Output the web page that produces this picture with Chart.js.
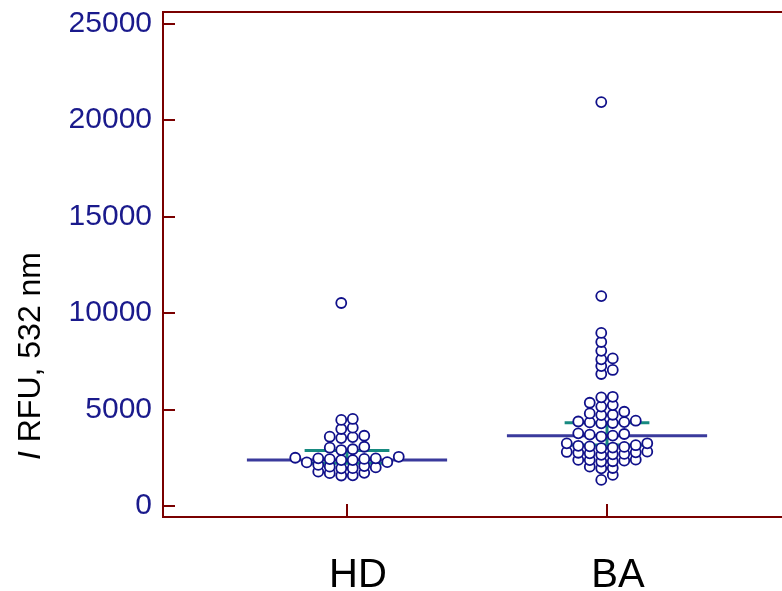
<!DOCTYPE html>
<html>
<head>
<meta charset="utf-8">
<script src="https://cdn.jsdelivr.net/npm/chart.js@4"></script>
<style>
  html, body { margin: 0; padding: 0; background: #fff; }
  #wrap { width: 782px; height: 591px; }
</style>
</head>
<body>
<div id="wrap"><canvas id="chart-dots" width="782" height="591"></canvas></div>
<script>
// groups on the x axis
const groups = ["HD", "BA"];

// individual values
const hdValues = [1580, 1590, 1700, 1720, 1780,
  1950, 1960, 2000, 2040, 2070, 2130,
  2260, 2270, 2380, 2380, 2430, 2440, 2470, 2470, 2500, 2550,
  2900, 2940, 3020, 3070,
  3520, 3570, 3590, 3640,
  3990, 4060, 4460, 4510,
  10520];

const baValues = [1350, 1610,
  1950, 1970, 2040,
  2300, 2320, 2350, 2380, 2390, 2400,
  2650, 2680, 2700, 2730, 2760, 2780, 2800, 2815,
  3000, 3030, 3060, 3090, 3120, 3150,
  3248, 3250,
  3600, 3650, 3700, 3730, 3765,
  4285, 4300, 4330, 4350, 4380, 4420,
  4710, 4730, 4800, 4885,
  5150, 5230, 5350, 5630, 5660,
  6840, 7050, 7250, 7600, 7650, 8040, 8500, 8970,
  10880, 20930];

// summary marks per group
const medians = [2380, 3640];
const means = [2870, 4320];
const lowerMarks = [2210, 3160];

const yTicks = [0, 5000, 10000, 15000, 20000, 25000];

const axisColor = "#7a0000";
const dotColor = "#10108a";
const medianColor = "#3a3a9c";
const meanColor = "#178a80";

const allValues = [hdValues, baValues];

// === point datasets ===
const pointSets = allValues.map((vals, i) => ({
  label: groups[i],
  data: vals.map(v => ({ x: i + 1, y: v })),
  pointRadius: 5,
  pointHoverRadius: 5,
  borderWidth: 1.8,
  borderColor: dotColor,
  backgroundColor: "#ffffff",
  order: 1
}));

// === summary lines ===
const lineSet = (pts, color) => ({
  type: "line",
  data: pts,
  showLine: true,
  borderColor: color,
  borderWidth: 3,
  pointRadius: 0,
  fill: false,
  order: 2
});

const medianHalf = 0.385;
const meanHalf = 0.163;
const lineSets = [];
groups.forEach((g, i) => {
  const c = i + 1;
  lineSets.push(lineSet([{ x: c - medianHalf, y: medians[i] }, { x: c + medianHalf, y: medians[i] }], medianColor));
  lineSets.push(lineSet([{ x: c - meanHalf, y: lowerMarks[i] }, { x: c + meanHalf, y: lowerMarks[i] }], meanColor));
  lineSets.push(lineSet([{ x: c, y: means[i] }, { x: c, y: lowerMarks[i] }], meanColor));
  lineSets.push(lineSet([{ x: c - meanHalf, y: means[i] }, { x: c + meanHalf, y: means[i] }], meanColor));
});

// frame, inner ticks and y title
const framePlugin = {
  id: "frame",
  afterDraw(chart) {
    const { ctx, chartArea: a, scales } = chart;
    ctx.save();
    ctx.strokeStyle = axisColor;
    ctx.lineWidth = 2;
    ctx.beginPath();
    ctx.moveTo(a.right, a.top);
    ctx.lineTo(a.left, a.top);
    ctx.lineTo(a.left, a.bottom);
    ctx.lineTo(a.right, a.bottom);
    yTicks.forEach(v => {
      const y = Math.round(scales.y.getPixelForValue(v));
      ctx.moveTo(a.left, y);
      ctx.lineTo(a.left + 12, y);
    });
    groups.forEach((g, i) => {
      const x = Math.round(scales.x.getPixelForValue(i + 1));
      ctx.moveTo(x, a.bottom);
      ctx.lineTo(x, a.bottom - 13);
    });
    ctx.stroke();

    // y title: italic I + regular rest
    ctx.translate(40, 356);
    ctx.rotate(-Math.PI / 2);
    ctx.fillStyle = "#000";
    ctx.textBaseline = "alphabetic";
    const fItal = "italic 32px 'Liberation Sans', Arial, sans-serif";
    const fReg = "32px 'Liberation Sans', Arial, sans-serif";
    ctx.font = fItal;
    const w1 = ctx.measureText("I").width;
    ctx.font = fReg;
    const rest = " RFU, 532 nm";
    const w2 = ctx.measureText(rest).width;
    let x0 = -(w1 + w2) / 2;
    ctx.font = fItal;
    ctx.fillText("I", x0, 0);
    ctx.font = fReg;
    ctx.fillText(rest, x0 + w1, 0);
    ctx.restore();
  }
};

const ctx = document.getElementById("chart-dots");
const chart = new Chart(ctx, {
  type: "scatter",
  data: { datasets: [...lineSets, ...pointSets] },
  options: {
    responsive: false,
    animation: false,
    events: [],
    layout: { autoPadding: false, padding: { top: 12, right: 0, left: 0, bottom: 0 } },
    plugins: { legend: { display: false }, tooltip: { enabled: false } },
    scales: {
      x: {
        type: "linear",
        min: 0.2923,
        max: 2.673,
        grid: { display: false, drawTicks: false },
        border: { display: false },
        afterBuildTicks: s => { s.ticks = groups.map((g, i) => ({ value: i + 1 })); },
        afterFit: s => { s.height = 74; s.paddingLeft = 0; s.paddingRight = 0; },
        ticks: {
          padding: 35,
          labelOffset: 11,
          color: "#000",
          font: { family: "'Liberation Sans', Arial, sans-serif", size: 40 },
          callback: v => groups[v - 1] || ""
        }
      },
      y: {
        min: -570,
        max: 25600,
        grid: { display: false, drawTicks: false },
        border: { display: false },
        afterBuildTicks: s => { s.ticks = yTicks.map(v => ({ value: v })); },
        afterFit: s => { s.width = 163; s.paddingTop = 0; s.paddingBottom = 0; },
        ticks: {
          padding: 11,
          color: "#1a1a8c",
          font: { family: "'Liberation Sans', Arial, sans-serif", size: 30 },
          callback: v => String(v)
        }
      }
    }
  },
  plugins: [framePlugin]
});

// dot-plot layout: spread close values sideways in columns
function layoutSwarm(chart) {
  const xs = chart.scales.x, ys = chart.scales.y;
  const pxPerUnit = xs.getPixelForValue(2) - xs.getPixelForValue(1);
  const step = 11.5, minGap = 6.5;
  pointSets.forEach((set, gi) => {
    const cols = {};
    const sorted = set.data.slice().sort((a, b) => a.y - b.y);
    sorted.forEach(p => {
      const py = ys.getPixelForValue(p.y);
      for (let k = 0; k < 40; k++) {
        const n = Math.floor(k / 2);
        const off = (k % 2 === 0 ? -1 : 1) * (n + 0.5) * step;
        const used = cols[k] || [];
        if (used.every(u => Math.abs(u - py) >= minGap)) {
          used.push(py);
          cols[k] = used;
          p.x = gi + 1 + off / pxPerUnit;
          break;
        }
      }
    });
  });
  chart.update("none");
}
layoutSwarm(chart);
</script>
</body>
</html>
